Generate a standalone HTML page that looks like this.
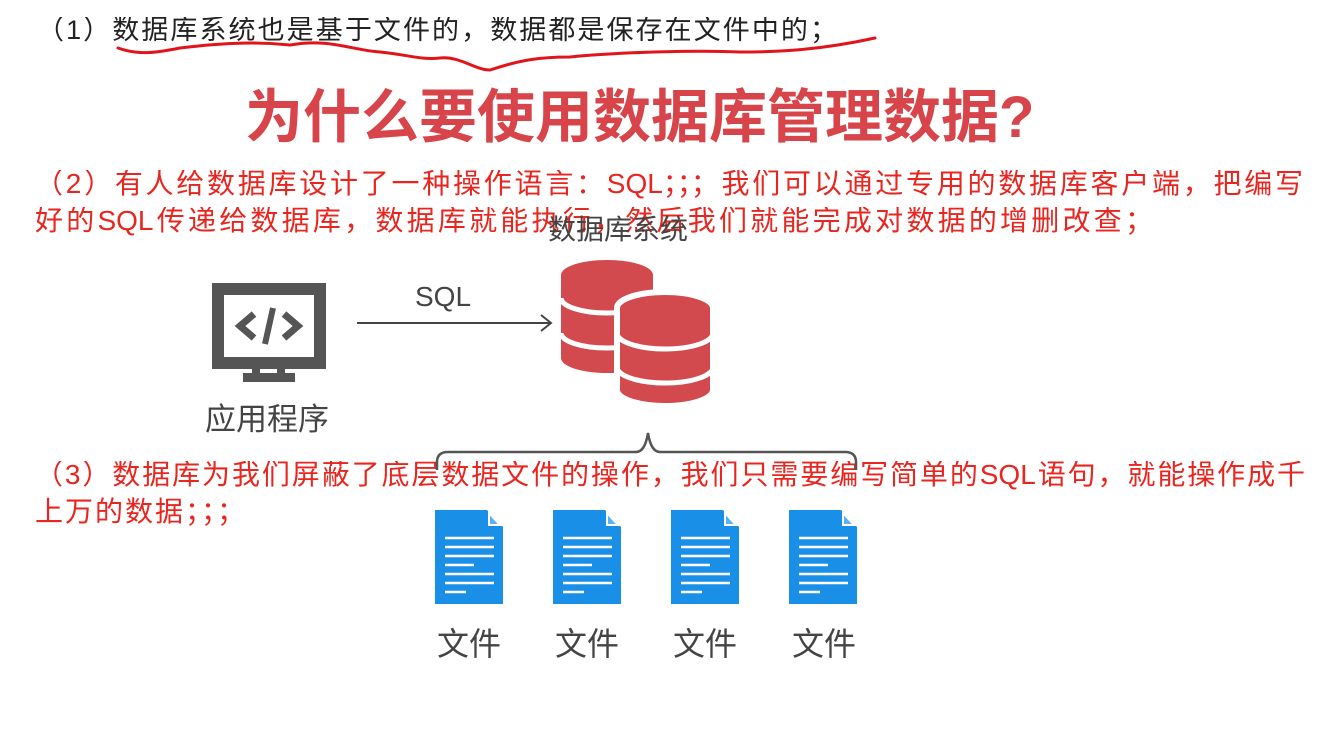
<!DOCTYPE html>
<html><head><meta charset="utf-8"><style>
body{margin:0;width:1317px;height:737px;background:#fff;position:relative;overflow:hidden;font-family:"Liberation Sans","Noto Sans CJK SC",sans-serif}
.t{position:absolute;white-space:nowrap;line-height:1}
.j{text-align:justify;text-align-last:justify;white-space:normal;overflow:hidden;height:36px}
.r{color:#e8261f;font-size:28px}
</style></head><body>
<div class="t j" style="left:37px;top:17px;width:800px;font-size:27px;color:#222">（1）数据库系统也是基于文件的，数据都是保存在文件中的；</div>
<svg style="position:absolute;left:0;top:0" width="1317" height="737">
<path d="M118 48 C140 56,160 52,180 48 C230 42,260 42,290 45 C330 38,350 50,380 52 C410 55,420 60,440 58 C460 56,475 70,490 70 C520 60,540 57,570 57 C620 52,700 50,740 52 C780 52,820 50,875 38" fill="none" stroke="#e0141a" stroke-width="3" stroke-linecap="round"/>
</svg>
<div class="t" style="left:245px;top:89px;font-size:58px;font-weight:bold;color:#d7444a">为什么要使用数据库管理数据?</div>
<div class="t j r" style="left:35px;top:170px;width:1268px">（2）有人给数据库设计了一种操作语言：SQL；；；我们可以通过专用的数据库客户端，把编写</div>
<div class="t j r" style="left:35px;top:207px;width:1118px">好的SQL传递给数据库，数据库就能执行，然后我们就能完成对数据的增删改查；</div>
<div class="t" style="left:548px;top:216px;font-size:28px;color:#444">数据库系统</div>
<div class="t" style="left:415px;top:283px;font-size:28px;color:#444">SQL</div>
<div class="t" style="left:205px;top:404px;font-size:31px;color:#444">应用程序</div>
<div class="t j r" style="left:35px;top:461px;width:1270px">（3）数据库为我们屏蔽了底层数据文件的操作，我们只需要编写简单的SQL语句，就能操作成千</div>
<div class="t r" style="left:35px;top:498px;letter-spacing:2px">上万的数据；；；</div>
<svg style="position:absolute;left:0;top:0" width="1317" height="737">
<rect x="218" y="289" width="102" height="74" fill="none" stroke="#555" stroke-width="12"/>
<rect x="252" y="363" width="8" height="10" fill="#555"/><rect x="277" y="363" width="8" height="10" fill="#555"/>
<rect x="243" y="373" width="52" height="9" fill="#555"/>
<path d="M254 314 L240 326 L254 338" fill="none" stroke="#555" stroke-width="7"/>
<path d="M284 314 L298 326 L284 338" fill="none" stroke="#555" stroke-width="7"/>
<path d="M273 308 L265 344" stroke="#555" stroke-width="6"/>
<line x1="357" y1="323" x2="550" y2="323" stroke="#444" stroke-width="2"/>
<path d="M541 315 L551 323 L541 331" fill="none" stroke="#444" stroke-width="2"/>
<path d="M561 275 A46 15 0 0 1 653 275 V358 A46 15 0 0 1 561 358Z" fill="#d24a4d"/>
<path d="M561 298 A46 15 0 0 0 653 298" fill="none" stroke="#fff" stroke-width="5"/>
<path d="M561 333 A46 15 0 0 0 653 333" fill="none" stroke="#fff" stroke-width="5"/>
<path d="M617 308 A48 16 0 0 1 713 308 V390 A48 16 0 0 1 617 390Z" fill="#d24a4d" stroke="#fff" stroke-width="6"/>
<path d="M617 333 A48 16 0 0 0 713 333" fill="none" stroke="#fff" stroke-width="5"/>
<path d="M617 367 A48 16 0 0 0 713 367" fill="none" stroke="#fff" stroke-width="5"/>
<path d="M437 470 V462 Q437 452 448 452 H636 Q645 452 648 433 Q651 452 660 452 H845 Q856 452 856 462 V470" fill="none" stroke="#555" stroke-width="2.5"/>
<g id="f">
<path d="M435 510 H487 L503 527 V604 H435Z" fill="#1a8fe8"/>
<path d="M489 513 V525 H500Z" fill="#5bb2f2" stroke="#fff" stroke-width="2"/>
<g stroke="#fff" stroke-width="2.5">
<line x1="445" y1="538" x2="494" y2="538"/><line x1="445" y1="547" x2="494" y2="547"/><line x1="445" y1="556" x2="494" y2="556"/>
<line x1="445" y1="565" x2="474" y2="565"/><line x1="445" y1="574" x2="494" y2="574"/><line x1="445" y1="583" x2="494" y2="583"/><line x1="445" y1="592" x2="466" y2="592"/>
</g></g>
<use href="#f" x="118"/><use href="#f" x="236"/><use href="#f" x="354"/>
</svg>
<div class="t" style="left:437px;top:628px;font-size:32px;color:#444">文件</div>
<div class="t" style="left:555px;top:628px;font-size:32px;color:#444">文件</div>
<div class="t" style="left:673px;top:628px;font-size:32px;color:#444">文件</div>
<div class="t" style="left:792px;top:628px;font-size:32px;color:#444">文件</div>
</body></html>
